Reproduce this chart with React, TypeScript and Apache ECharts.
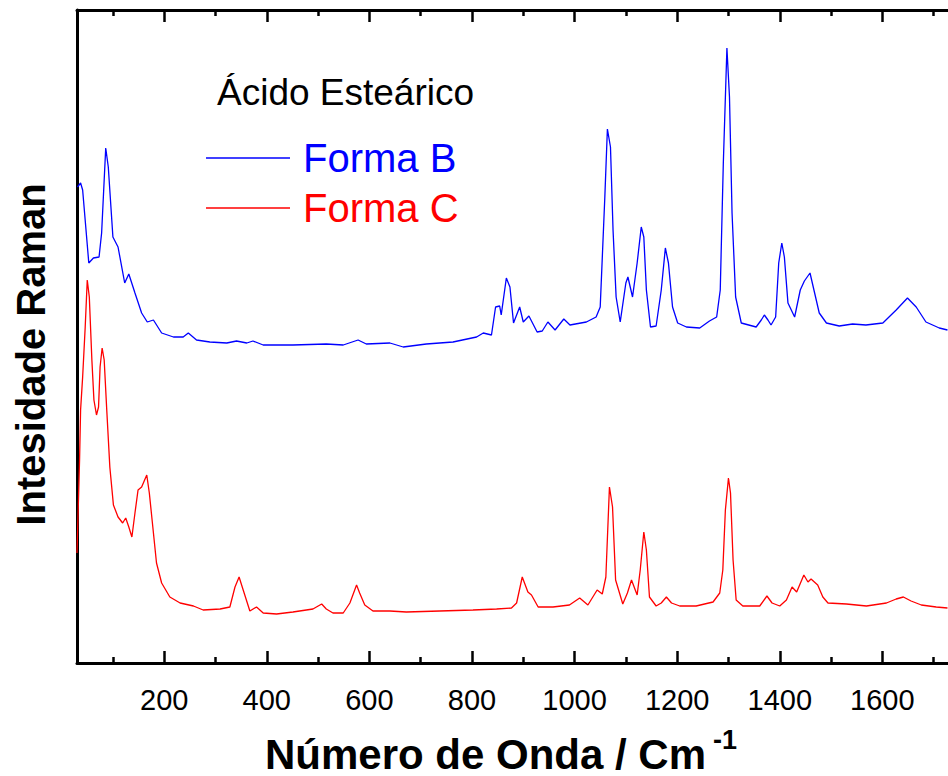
import React, { useEffect, useRef } from "react";
import * as echarts from "echarts";

// Forma B (blue) spectrum: wavenumber (cm-1) and Raman intensity (arb. units)
const blueWavenumbers = [
  31, 37, 41, 53, 62, 73, 78, 86, 91, 100,
  110, 123, 131, 143, 156, 167, 179, 195, 218, 237,
  247, 263, 289, 322, 341, 361, 373, 393, 451, 516,
  549, 578, 594, 640, 666, 711, 763, 809, 822, 838,
  846, 854, 857, 867, 874, 881, 893, 900, 911, 927,
  937, 948, 962, 979, 991, 1023, 1042, 1050, 1059, 1064,
  1070, 1075, 1081, 1089, 1100, 1104, 1113, 1122, 1130, 1135,
  1140, 1148, 1159, 1169, 1177, 1183, 1191, 1201, 1218, 1244,
  1263, 1277, 1284, 1290, 1297, 1302, 1307, 1314, 1325, 1354,
  1364, 1370, 1377, 1383, 1392, 1398, 1404, 1409, 1416, 1429,
  1440, 1448, 1459, 1468, 1477, 1491, 1516, 1542, 1568, 1601,
  1627, 1649, 1666, 1685, 1711, 1727,
];
const blueIntensity = [
  476, 480, 473, 400, 405, 406, 430, 515, 496, 426,
  416, 380, 389, 370, 350, 341, 343, 330, 326, 326,
  330, 323, 321, 320, 322, 320, 322, 318, 318, 319,
  318, 323, 319, 320, 316, 319, 321, 326, 330, 328,
  356, 357, 348, 385, 376, 340, 356, 341, 347, 331,
  332, 341, 333, 344, 338, 341, 346, 356, 466, 534,
  516, 433, 366, 341, 380, 386, 366, 400, 436, 426,
  373, 336, 337, 373, 415, 400, 356, 340, 336, 335,
  342, 346, 373, 500, 615, 566, 450, 366, 340, 336,
  343, 348, 343, 338, 346, 400, 420, 406, 360, 346,
  373, 382, 390, 370, 350, 340, 337, 339, 338, 340,
  353, 365, 356, 341, 335, 333,
];

// Forma C (red) spectrum
const redWavenumbers = [
  30, 35, 37, 41, 46, 50, 54, 59, 63, 68,
  72, 75, 79, 83, 88, 94, 101, 110, 119, 125,
  131, 137, 143, 149, 156, 166, 171, 177, 185, 195,
  211, 231, 257, 276, 309, 328, 338, 346, 354, 367,
  380, 393, 419, 451, 477, 490, 507, 516, 529, 549,
  562, 575, 581, 591, 607, 640, 672, 737, 802, 848,
  877, 887, 898, 909, 916, 929, 958, 990, 1010, 1026,
  1044, 1054, 1061, 1068, 1074, 1080, 1094, 1103, 1111, 1122,
  1128, 1135, 1140, 1146, 1159, 1169, 1179, 1189, 1205, 1237,
  1270, 1283, 1289, 1294, 1300, 1304, 1309, 1315, 1328, 1361,
  1375, 1385, 1400, 1413, 1424, 1433, 1447, 1455, 1461, 1474,
  1484, 1494, 1530, 1569, 1608, 1627, 1641, 1656, 1676, 1705,
  1727,
];
const redIntensity = [
  110, 203, 253, 286, 336, 383, 366, 303, 263, 248,
  256, 296, 315, 303, 253, 196, 158, 146, 140, 145,
  136, 126, 150, 173, 176, 188, 170, 140, 100, 80,
  66, 60, 57, 53, 54, 56, 76, 86, 73, 52,
  56, 50, 49, 51, 53, 54, 59, 54, 50, 50,
  60, 78, 70, 58, 52, 52, 51, 52, 53, 54,
  55, 60, 86, 71, 68, 56, 56, 58, 65, 58,
  73, 69, 86, 176, 156, 83, 59, 70, 83, 68,
  93, 131, 113, 66, 57, 60, 66, 60, 57, 57,
  61, 70, 93, 153, 185, 170, 103, 63, 57, 57,
  67, 60, 57, 63, 76, 71, 88, 81, 84, 78,
  66, 60, 59, 57, 60, 64, 66, 62, 58, 56,
  55,
];

const majorTicks = [200, 400, 600, 800, 1000, 1200, 1400, 1600];
const minorTicks = [100, 300, 500, 700, 900, 1100, 1300, 1500, 1700];
const xMin = 30;
const xMax = 1728;
const yMin = 0;
const yMax = 653;

export default function App() {
  const ref = useRef<HTMLDivElement>(null);

  useEffect(() => {
    if (!ref.current) return;
    const chart = echarts.init(ref.current, null, { renderer: "svg" });
    const zip = (xs: number[], ys: number[]) => xs.map((x, i) => [x, ys[i]]);
    const font = '"Liberation Sans", Arial, sans-serif';
    const narrow = '"Liberation Sans Narrow", "Arial Narrow", "Liberation Sans", sans-serif';
    const axisColor = "#000";
    const gridBox = { left: 77, top: 10, right: 0, bottom: 113, outerBoundsMode: "none", containLabel: false };

    const hiddenX = (gridIndex: number, position: string) => ({
      type: "value",
      gridIndex,
      position,
      min: xMin,
      max: xMax,
      splitLine: { show: false },
      axisLabel: { show: false },
      axisLine: { show: false },
      axisTick: { show: false },
    });

    const option: any = {
      animation: false,
      backgroundColor: "#fff",
      grid: [gridBox, { ...gridBox }],
      title: {
        text: "Ácido Esteárico",
        left: 212,
        top: 69,
        textStyle: { fontFamily: font, fontSize: 37, fontWeight: "normal", color: "#000" },
      },
      legend: {
        orient: "vertical",
        left: 201,
        top: 133,
        itemWidth: 84,
        itemHeight: 1.4,
        itemGap: 10,
        icon: "rect",
        textStyle: { fontFamily: font, fontSize: 40, lineHeight: 40, padding: [0, 0, 0, 8] },
        data: [
          { name: "Forma B", textStyle: { color: "#0000ff" } },
          { name: "Forma C", textStyle: { color: "#ff0000" } },
        ],
      },
      graphic: [
        {
          type: "text",
          left: 713,
          top: 726,
          style: { text: "-1", fontFamily: font, fontSize: 27, fontWeight: "bold", fill: "#000" },
        },
      ],
      xAxis: [
        {
          ...hiddenX(0, "bottom"),
          axisLine: { show: true, onZero: false, lineStyle: { color: axisColor, width: 3 } },
          axisTick: {
            show: true,
            inside: true,
            length: 12,
            customValues: majorTicks,
            lineStyle: { color: axisColor, width: 2.5 },
          },
          axisLabel: {
            show: true,
            customValues: majorTicks,
            formatter: (v: number) => String(v),
            margin: 22,
            fontFamily: narrow,
            fontSize: 29,
            color: "#000",
          },
          name: "Número de Onda / Cm",
          nameLocation: "middle",
          nameGap: 71,
          nameTextStyle: {
            fontFamily: font,
            fontSize: 42,
            fontWeight: "bold",
            color: "#000",
            lineHeight: 40,
            padding: [0, 54, 0, 0],
          },
        },
        {
          ...hiddenX(0, "top"),
          axisLine: { show: true, onZero: false, lineStyle: { color: axisColor, width: 3 } },
          axisTick: {
            show: true,
            inside: true,
            length: 12,
            customValues: majorTicks,
            lineStyle: { color: axisColor, width: 2.5 },
          },
        },
        {
          ...hiddenX(1, "bottom"),
          axisTick: {
            show: true,
            inside: true,
            length: 6,
            customValues: minorTicks,
            lineStyle: { color: axisColor, width: 2.5 },
          },
        },
        {
          ...hiddenX(1, "top"),
          axisTick: {
            show: true,
            inside: true,
            length: 6,
            customValues: minorTicks,
            lineStyle: { color: axisColor, width: 2.5 },
          },
        },
      ],
      yAxis: [
        {
          type: "value",
          gridIndex: 0,
          min: yMin,
          max: yMax,
          axisLine: { show: true, onZero: false, lineStyle: { color: axisColor, width: 3 } },
          axisTick: { show: false },
          axisLabel: { show: false },
          splitLine: { show: false },
          name: "Intesidade Raman",
          nameLocation: "middle",
          nameGap: 26,
          nameRotate: 90,
          nameTextStyle: {
            fontFamily: font,
            fontSize: 40,
            fontWeight: "bold",
            color: "#000",
            padding: [0, 36, 0, 0],
          },
        },
        {
          type: "value",
          gridIndex: 1,
          min: yMin,
          max: yMax,
          show: false,
        },
      ],
      series: [
        {
          name: "Forma B",
          type: "line",
          xAxisIndex: 0,
          yAxisIndex: 0,
          data: zip(blueWavenumbers, blueIntensity),
          symbol: "none",
          showSymbol: false,
          lineStyle: { color: "#0000ff", width: 1.3 },
          itemStyle: { color: "#0000ff" },
        },
        {
          name: "Forma C",
          type: "line",
          xAxisIndex: 0,
          yAxisIndex: 0,
          data: zip(redWavenumbers, redIntensity),
          symbol: "none",
          showSymbol: false,
          lineStyle: { color: "#ff0000", width: 1.3 },
          itemStyle: { color: "#ff0000" },
        },
      ],
    };

    chart.setOption(option);
    return () => chart.dispose();
  }, []);

  return (
    <div
      ref={ref}
      style={{ position: "absolute", left: 0, top: 0, width: 948, height: 776, background: "#fff" }}
    />
  );
}
